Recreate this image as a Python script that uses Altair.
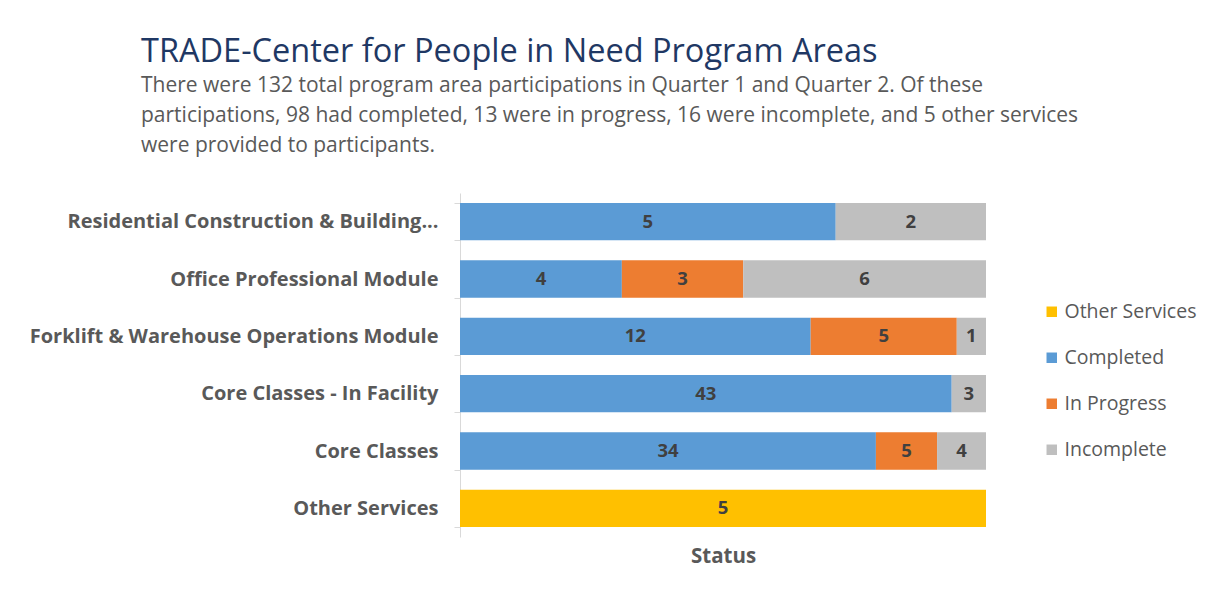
import altair as alt
import pandas as pd

categories = [
    "Residential Construction & Building...",
    "Office Professional Module",
    "Forklift & Warehouse Operations Module",
    "Core Classes - In Facility",
    "Core Classes",
    "Other Services",
]
completed = [5, 4, 12, 43, 34, 0]
in_progress = [0, 3, 5, 0, 5, 0]
incomplete = [2, 6, 1, 3, 4, 0]
other_services = [0, 0, 0, 0, 0, 5]

legend_order = ["Other Services", "Completed", "In Progress", "Incomplete"]
legend_colors = ["#FFC000", "#5B9BD5", "#ED7D31", "#BFBFBF"]
stack_order = ["Completed", "In Progress", "Incomplete", "Other Services"]

title_text = "TRADE-Center for People in Need Program Areas"
subtitle_lines = [
    "There were 132 total program area participations in Quarter 1 and Quarter 2. Of these",
    "participations, 98 had completed, 13 were in progress, 16 were incomplete, and 5 other services",
    "were provided to participants.",
]

series = {
    "Completed": completed,
    "In Progress": in_progress,
    "Incomplete": incomplete,
    "Other Services": other_services,
}
rows = []
for i, c in enumerate(categories):
    for k, s in enumerate(stack_order):
        v = series[s][i]
        if v > 0:
            rows.append({"category": c, "status": s, "value": v, "order": k})
df = pd.DataFrame(rows)

FONT = "Open Sans"
GRAY = "#595959"

base = (
    alt.Chart(df)
    .transform_stack(
        stack="value",
        as_=["x0", "x1"],
        groupby=["category"],
        offset="normalize",
        sort=[alt.SortField("order", order="ascending")],
    )
    .transform_calculate(xm="(datum.x0 + datum.x1) / 2")
)

y_enc = alt.Y(
    "category:N",
    sort=categories,
    scale=alt.Scale(paddingInner=0.35, paddingOuter=0.175),
    axis=alt.Axis(
        title=None,
        tickBand="extent",
        labelFont=FONT,
        labelFontSize=20,
        labelFontWeight="bold",
        labelColor=GRAY,
        labelPadding=16,
        labelLimit=0,
        domainColor="#D9D9D9",
        tickColor="#D9D9D9",
        tickSize=6,
    ),
)

bars = base.mark_bar().encode(
    x=alt.X(
        "x0:Q",
        scale=alt.Scale(domain=[0, 1], nice=False),
        axis=alt.Axis(
            title="Status",
            labels=False,
            ticks=False,
            domain=False,
            grid=False,
            titleFont=FONT,
            titleFontSize=20.5,
            titleFontWeight="bold",
            titleColor=GRAY,
            titlePadding=9,
        ),
    ),
    x2="x1:Q",
    y=y_enc,
    color=alt.Color(
        "status:N",
        scale=alt.Scale(domain=legend_order, range=legend_colors),
        legend=alt.Legend(
            title=None,
            orient="none",
            legendX=582,
            legendY=109,
            labelFont=FONT,
            labelFontSize=19.5,
            labelColor=GRAY,
            labelLimit=0,
            symbolType="square",
            symbolSize=110,
            symbolStrokeWidth=0,
            rowPadding=25,
            labelOffset=3,
        ),
    ),
)

labels = base.mark_text(
    font=FONT, fontSize=18.5, fontWeight="bold", color="#404040"
).encode(
    x="xm:Q",
    y=alt.Y("category:N", sort=categories),
    text="value:Q",
)

chart = (
    alt.layer(bars, labels)
    .properties(
        width=526,
        height=344,
        padding={"left": 452, "top": 185, "right": 215, "bottom": 59},
        autosize="none",
        background="white",
        title=alt.TitleParams(
            text=title_text,
            subtitle=subtitle_lines,
            anchor="start",
            frame="group",
            dx=-319,
            offset=27,
            font=FONT,
            fontSize=32.5,
            fontWeight="normal",
            color="#1F3864",
            subtitleFont=FONT,
            subtitleFontSize=21,
            subtitleColor=GRAY,
            subtitleLineHeight=30,
            subtitlePadding=7,
        ),
    )
    .configure_view(stroke=None)
)

chart.save("out.html", embed_options={"renderer": "svg", "actions": False})
